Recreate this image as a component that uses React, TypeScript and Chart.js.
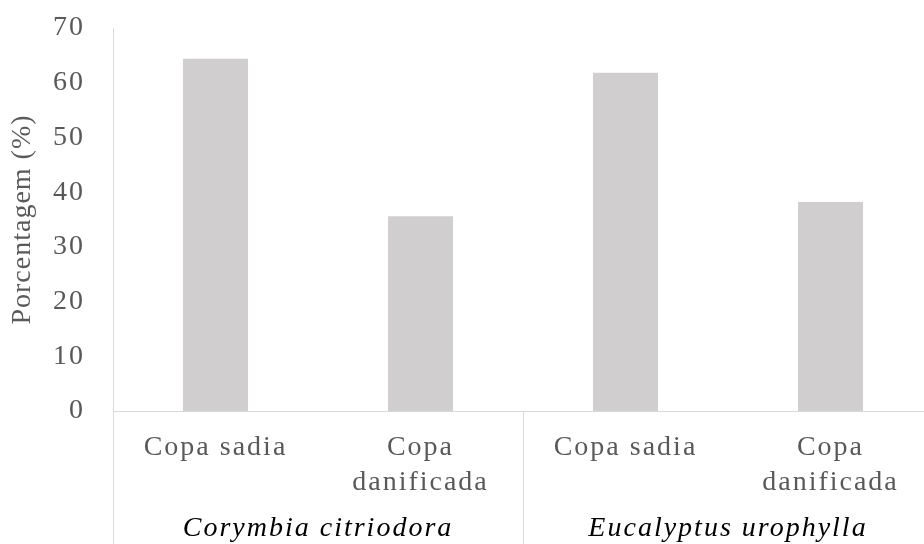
import React, { useEffect, useRef } from "react";
import { Chart, registerables } from "chart.js";

Chart.register(...registerables);

const categories: (string | string[])[] = [
  "Copa sadia",
  ["Copa", "danificada"],
  "Copa sadia",
  ["Copa", "danificada"],
];
const groupLabels = ["Corymbia citriodora", "Eucalyptus urophylla"];
const groupSize = 2;
const percentValues = [64.4, 35.6, 61.8, 38.2];
const yTicks = [0, 10, 20, 30, 40, 50, 60, 70];

const FONT = "'Liberation Serif', 'Times New Roman', serif";
const GREY = "#595959";
const LINE = "#d9d9d9";

const spacingPlugin = {
  id: "letterSpacing",
  afterLayout(chart: any) {
    const ys = chart.scales.y;
    if (ys && !ys.__patched) {
      const orig = ys.drawTitle.bind(ys);
      ys.drawTitle = (...args: any[]) => {
        const ctx = chart.ctx as any;
        const prev = ctx.letterSpacing;
        ctx.letterSpacing = "1px";
        orig(...args);
        ctx.letterSpacing = prev;
      };
      ys.__patched = true;
    }
  },
  beforeDraw(chart: any) {
    (chart.ctx as any).letterSpacing = "2px";
  },
  afterDraw(chart: any) {
    const ctx = chart.ctx;
    const xs = chart.scales.x;
    const half = (xs.getPixelForValue(1) - xs.getPixelForValue(0)) / 2;
    ctx.save();
    ctx.strokeStyle = LINE;
    ctx.lineWidth = 1;
    for (let k = 0; k <= categories.length; k += groupSize) {
      const px = Math.round(xs.getPixelForValue(k) - half) + 0.5;
      ctx.beginPath();
      ctx.moveTo(px, chart.chartArea.bottom);
      ctx.lineTo(px, chart.height);
      ctx.stroke();
    }
    ctx.restore();
    (chart.ctx as any).letterSpacing = "0px";
  },
};

export default function App() {
  const ref = useRef<HTMLCanvasElement | null>(null);
  useEffect(() => {
    if (!ref.current) return;
    const chart = new Chart(ref.current, {
      type: "bar",
      data: {
        labels: categories as any,
        datasets: [
          {
            data: percentValues,
            backgroundColor: "#d0cece",
            borderWidth: 0,
            barPercentage: 0.317,
            categoryPercentage: 1,
            xAxisID: "x",
          },
        ],
      },
      options: {
        responsive: false,
        animation: false,
        layout: { padding: { left: 0, right: 1, top: 28, bottom: 0 } },
        plugins: {
          legend: { display: false },
          tooltip: { enabled: false },
        },
        scales: {
          x: {
            type: "category",
            position: "bottom",
            grid: { display: false, drawTicks: false },
            border: { display: true, color: LINE, width: 1 },
            ticks: {
              color: GREY,
              font: { family: FONT, size: 28, lineHeight: 1.25 },
              padding: 19,
              maxRotation: 0,
              autoSkip: false,
            },
            afterFit(scale: any) {
              scale.height = 87;
            },
          },
          x2: {
            type: "category",
            position: "bottom",
            labels: groupLabels,
            offset: true,
            grid: { display: false, drawTicks: false },
            border: { display: false },
            ticks: {
              color: "#000000",
              font: { family: FONT, size: 28, style: "italic", lineHeight: 1.2 },
              padding: 14,
              maxRotation: 0,
              autoSkip: false,
            },
            afterFit(scale: any) {
              scale.height = 46;
            },
          },
          y: {
            min: 0,
            max: 70,
            afterBuildTicks(scale: any) {
              scale.ticks = yTicks.map((v) => ({ value: v }));
            },
            grid: { display: false, drawTicks: false },
            border: { display: true, color: LINE, width: 1 },
            ticks: {
              color: GREY,
              font: { family: FONT, size: 28 },
              padding: 28,
            },
            title: {
              display: true,
              text: "Porcentagem (%)",
              color: GREY,
              font: { family: FONT, size: 28 },
              padding: { top: 6, bottom: 0 },
            },
            afterFit(scale: any) {
              scale.width = 113;
              scale.paddingTop = 0;
              scale.paddingBottom = 0;
            },
          },
        },
      },
      plugins: [spacingPlugin],
    });
    return () => chart.destroy();
  }, []);

  return (
    <div
      style={{
        position: "fixed",
        left: 0,
        top: 0,
        width: 924,
        height: 544,
        overflow: "hidden",
        background: "#ffffff",
      }}
    >
      <canvas ref={ref} width={934} height={544} style={{ display: "block", width: 934, height: 544 }} />
    </div>
  );
}
